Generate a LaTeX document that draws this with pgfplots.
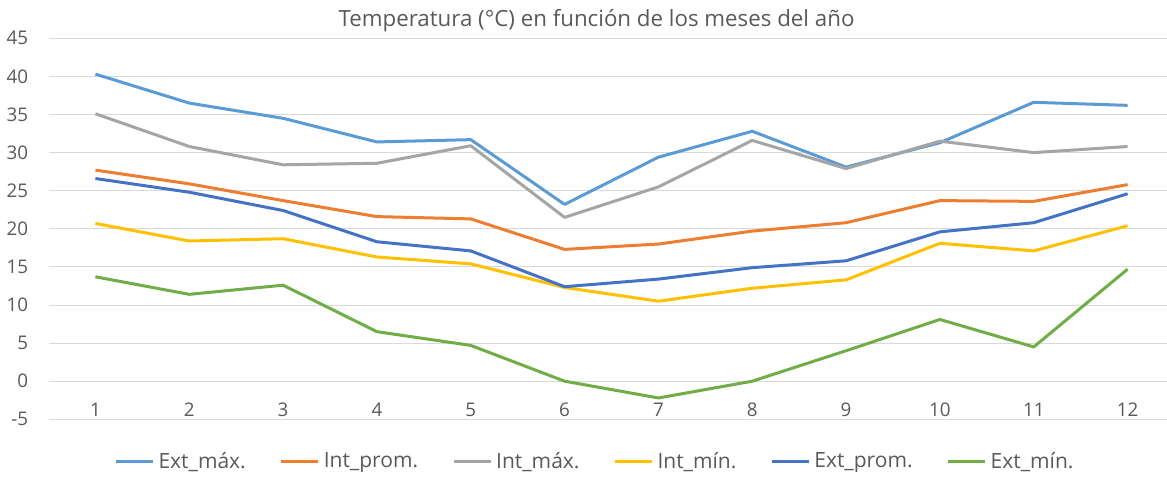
\documentclass[border=0pt]{standalone}
\usepackage{pgfplots}
\pgfplotsset{compat=1.18}
\usepackage{fontspec}
\setmainfont{Open Sans}
\definecolor{cExtMax}{HTML}{5B9BD5}
\definecolor{cIntProm}{HTML}{ED7D31}
\definecolor{cIntMax}{HTML}{A5A5A5}
\definecolor{cIntMin}{HTML}{FFC000}
\definecolor{cExtProm}{HTML}{4472C4}
\definecolor{cExtMin}{HTML}{70AD47}
\definecolor{txtgray}{HTML}{595959}
\definecolor{gridgray}{HTML}{D9D9D9}
\begin{document}
\begin{tikzpicture}
% 1 px of the reference (1167 x 477) = 0.5bp
\useasboundingbox (0bp,0bp) rectangle (583.5bp,238.5bp);
\node[font=\fontsize{11.15bp}{13bp}\selectfont,text=txtgray] at (298.25bp,228bp) {Temperatura (°C) en función de los meses del año};
\begin{axis}[at={(24.25bp,28.85bp)},anchor=south west,scale only axis,
  width=559.25bp,height=190.5bp,
  xmin=0.5,xmax=12.42,ymin=-5,ymax=45,
  xtick={1,...,12},ytick={-5,0,...,45},
  ymajorgrids,grid style={draw=gridgray,line width=0.5bp},
  axis line style={draw=none},tick style={draw=none},major tick length=0pt,
  /pgf/number format/assume math mode=true,
  tick label style={font=\fontsize{9.4bp}{11bp}\selectfont,text=txtgray},
  yticklabel style={anchor=east,inner sep=0pt,xshift=-10bp},
  xticklabel style={anchor=center,inner sep=0pt,yshift=4.7bp},
  every axis plot/.append style={line width=1.5bp,line join=round,no marks},
  legend columns=6,
  legend style={at={(0.4895,-0.112)},anchor=center,draw=none,fill=none,
    font=\fontsize{10.5bp}{12bp}\selectfont,text=txtgray,
    /tikz/every even column/.append style={column sep=15bp},
    /tikz/every odd column/.append style={column sep=0bp},
    inner sep=0pt},
  legend image code/.code={\draw[#1,line width=1.5bp] (0bp,0bp) -- (18.5bp,0bp);},
  ]
\addplot[cExtMax] coordinates {(1,40.3)(2,36.5)(3,34.5)(4,31.4)(5,31.7)(6,23.2)(7,29.4)(8,32.8)(9,28.1)(10,31.3)(11,36.6)(12,36.2)};
\addplot[cIntProm] coordinates {(1,27.7)(2,25.9)(3,23.7)(4,21.6)(5,21.3)(6,17.3)(7,18.0)(8,19.7)(9,20.8)(10,23.7)(11,23.6)(12,25.8)};
\addplot[cIntMax] coordinates {(1,35.1)(2,30.8)(3,28.4)(4,28.6)(5,30.9)(6,21.5)(7,25.5)(8,31.6)(9,27.9)(10,31.5)(11,30.0)(12,30.8)};
\addplot[cIntMin] coordinates {(1,20.7)(2,18.4)(3,18.7)(4,16.3)(5,15.4)(6,12.3)(7,10.5)(8,12.2)(9,13.3)(10,18.1)(11,17.1)(12,20.4)};
\addplot[cExtProm] coordinates {(1,26.6)(2,24.8)(3,22.4)(4,18.3)(5,17.1)(6,12.4)(7,13.4)(8,14.9)(9,15.8)(10,19.6)(11,20.8)(12,24.6)};
\addplot[cExtMin] coordinates {(1,13.7)(2,11.4)(3,12.6)(4,6.5)(5,4.7)(6,0.0)(7,-2.2)(8,0.0)(9,4.0)(10,8.1)(11,4.5)(12,14.7)};
\legend{Ext\_máx.,Int\_prom.,Int\_máx.,Int\_mín.,Ext\_prom.,Ext\_mín.}
\end{axis}
\end{tikzpicture}
\end{document}
